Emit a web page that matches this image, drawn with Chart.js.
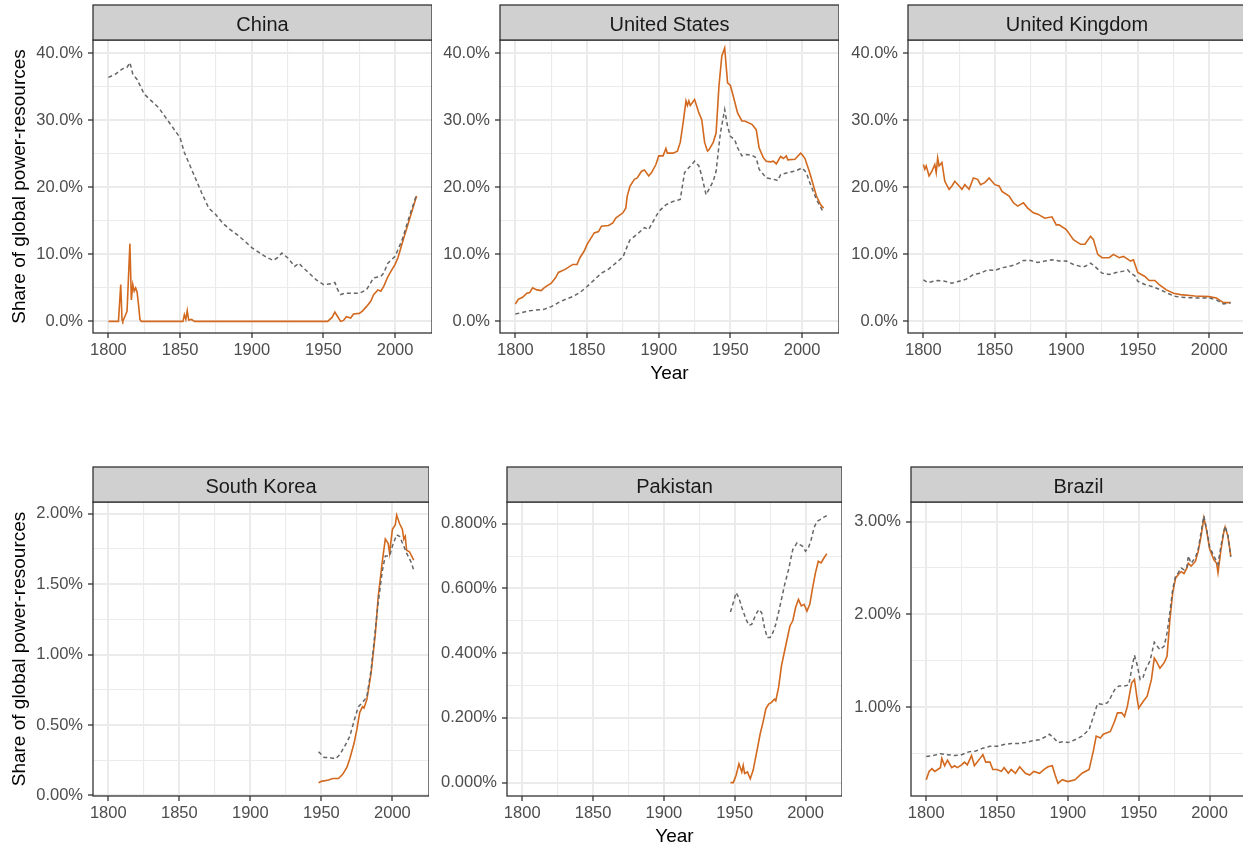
<!DOCTYPE html>
<html>
<head>
<meta charset="utf-8">
<title>Share of global power-resources</title>
<script src="https://cdn.jsdelivr.net/npm/chart.js@4.4.1/dist/chart.umd.min.js"></script>
<style>
  html, body { margin: 0; padding: 0; background: #fff; overflow: hidden; }
  body { width: 1243px; height: 846px; position: relative; }
  canvas { position: absolute; }
</style>
</head>
<body>
<script>
// ---- data: [year, share in %] ----
const chinaNet = [[1800,0],[1807,0],[1808.6,5.5],[1809.5,0.2],[1810,0],[1812,1.0],[1813,1.5],[1815,11.6],[1816,3.2],[1817,5.5],[1818,4.5],[1819,5.0],[1820,4.4],[1821,2.5],[1822,0.3],[1823,0],[1852,0],[1853,1.0],[1854,0.3],[1855,1.6],[1856,0.2],[1858,0.3],[1860,0],[1953,0],[1956,0.6],[1958,1.4],[1960,0.7],[1962,0],[1964,0.15],[1966,0.7],[1969,0.5],[1971,1.1],[1975,1.2],[1977,1.5],[1980,2.2],[1983,3.0],[1985,4.0],[1988,4.7],[1990,4.5],[1992,5.2],[1995,6.7],[1998,7.8],[2000,8.5],[2002,9.5],[2005,11.7],[2010,15.2],[2015,18.7]];
const chinaGross = [[1800,36.4],[1805,36.9],[1810,37.7],[1813,37.9],[1815,38.6],[1817,36.9],[1820,36.1],[1825,33.9],[1830,32.9],[1835,31.9],[1840,30.4],[1845,28.9],[1850,27.4],[1853,25.2],[1855,24.2],[1860,21.7],[1865,19.2],[1870,16.9],[1875,15.9],[1880,14.6],[1885,13.7],[1890,12.9],[1895,12.0],[1900,11.0],[1905,10.3],[1910,9.6],[1915,9.1],[1918,9.5],[1921,10.2],[1925,9.5],[1930,8.2],[1933,8.7],[1935,8.2],[1940,7.2],[1945,6.2],[1950,5.5],[1955,5.6],[1958,5.8],[1960,4.7],[1962,4.0],[1965,4.2],[1970,4.2],[1975,4.2],[1980,4.7],[1985,6.5],[1990,6.7],[1992,7.2],[1995,8.7],[2000,9.7],[2005,12.2],[2010,15.7],[2015,18.9]];

const usNet = [[1800,2.6],[1802,3.3],[1805,3.6],[1808,4.2],[1810,4.3],[1812,5.0],[1815,4.7],[1818,4.6],[1820,5.0],[1822,5.3],[1825,5.7],[1828,6.5],[1830,7.3],[1835,7.8],[1840,8.5],[1843,8.5],[1845,9.5],[1848,10.5],[1850,11.5],[1855,13.2],[1858,13.4],[1860,14.2],[1865,14.3],[1868,14.7],[1870,15.4],[1875,16.2],[1877,16.9],[1878,18.7],[1880,20.2],[1883,21.2],[1885,21.4],[1888,22.4],[1890,22.6],[1893,21.7],[1895,22.2],[1898,23.4],[1900,24.7],[1903,24.7],[1905,25.8],[1906,25.1],[1910,25.1],[1913,25.4],[1915,26.7],[1917,29.6],[1919,32.9],[1920,32.2],[1921,32.9],[1922,32.2],[1925,33.1],[1928,31.1],[1930,30.1],[1932,26.7],[1934,25.4],[1935,25.6],[1938,26.7],[1940,28.1],[1942,35.1],[1944,39.6],[1946,40.8],[1948,35.6],[1950,35.2],[1952,33.6],[1955,31.1],[1958,29.9],[1960,29.9],[1965,29.4],[1968,28.6],[1970,25.9],[1973,24.4],[1975,23.9],[1978,23.8],[1980,23.9],[1982,23.5],[1985,24.6],[1987,24.3],[1989,24.7],[1990,24.1],[1995,24.2],[1999,25.1],[2000,24.9],[2002,24.3],[2005,22.4],[2008,20.2],[2010,18.7],[2013,17.4],[2015,16.9]];
const usGross = [[1800,1.1],[1810,1.6],[1820,1.8],[1825,2.2],[1830,2.8],[1835,3.3],[1840,3.7],[1845,4.3],[1850,5.2],[1855,6.2],[1860,7.2],[1865,7.8],[1870,8.7],[1875,9.6],[1878,11.2],[1880,12.2],[1885,13.0],[1890,14.0],[1893,13.7],[1895,14.5],[1900,16.4],[1905,17.4],[1910,17.9],[1915,18.2],[1918,22.2],[1920,22.7],[1925,23.9],[1928,23.2],[1930,21.7],[1933,18.9],[1935,19.7],[1938,20.9],[1940,22.4],[1943,28.1],[1946,31.6],[1948,29.1],[1950,27.6],[1953,27.1],[1955,25.9],[1958,24.7],[1960,24.9],[1965,24.8],[1968,24.4],[1970,22.7],[1975,21.4],[1980,21.2],[1983,21.0],[1985,21.9],[1990,22.2],[1995,22.4],[2000,22.9],[2003,22.2],[2005,20.9],[2010,18.2],[2015,16.2]];

const ukNet = [[1800,23.4],[1801,22.7],[1802,23.2],[1804,21.7],[1806,22.4],[1808,23.4],[1809,22.2],[1810,24.4],[1811,23.2],[1813,23.7],[1815,20.9],[1818,19.7],[1820,20.2],[1822,20.9],[1825,20.2],[1827,19.7],[1829,20.4],[1832,19.7],[1835,21.4],[1838,21.2],[1840,20.4],[1843,20.7],[1846,21.4],[1850,20.4],[1853,20.2],[1855,19.4],[1860,18.7],[1863,17.7],[1866,17.2],[1870,17.7],[1873,16.9],[1877,16.2],[1880,16.0],[1885,15.4],[1890,15.6],[1893,14.4],[1895,14.4],[1900,13.7],[1905,12.2],[1910,11.5],[1913,11.5],[1917,12.7],[1919,12.2],[1922,10.0],[1925,9.5],[1930,9.5],[1933,10.0],[1937,9.5],[1940,9.7],[1945,9.0],[1947,9.2],[1950,7.3],[1955,6.7],[1958,6.1],[1962,6.1],[1965,5.5],[1970,4.7],[1975,4.2],[1980,4.0],[1990,3.8],[2000,3.7],[2005,3.5],[2010,2.8],[2015,2.8]];
const ukGross = [[1800,6.2],[1803,5.8],[1810,6.1],[1815,6.0],[1820,5.7],[1825,6.0],[1830,6.3],[1835,7.0],[1840,7.2],[1845,7.7],[1850,7.6],[1855,8.0],[1860,8.2],[1865,8.5],[1870,9.1],[1875,9.1],[1880,8.8],[1885,9.0],[1890,9.2],[1895,9.0],[1900,9.0],[1905,8.5],[1910,8.2],[1913,8.2],[1917,8.7],[1920,8.2],[1925,7.2],[1930,7.0],[1935,7.3],[1940,7.5],[1943,7.7],[1945,7.2],[1948,6.8],[1950,6.0],[1955,5.5],[1960,5.2],[1965,4.8],[1970,4.3],[1975,3.8],[1980,3.6],[1990,3.5],[2000,3.5],[2005,3.2],[2010,2.6],[2015,2.8]];

const koreaNet = [[1948,0.09],[1950,0.10],[1955,0.11],[1958,0.12],[1962,0.12],[1965,0.15],[1968,0.20],[1970,0.26],[1973,0.37],[1975,0.47],[1977,0.59],[1979,0.63],[1980,0.62],[1982,0.68],[1985,0.87],[1988,1.15],[1990,1.41],[1993,1.67],[1995,1.82],[1997,1.79],[1998,1.72],[2000,1.89],[2002,1.92],[2003,1.99],[2005,1.93],[2007,1.89],[2008,1.82],[2009,1.84],[2010,1.74],[2012,1.73],[2015,1.67]];
const koreaGross = [[1948,0.31],[1952,0.27],[1955,0.27],[1960,0.26],[1963,0.29],[1967,0.36],[1970,0.42],[1973,0.53],[1976,0.63],[1979,0.66],[1982,0.70],[1985,0.89],[1988,1.18],[1990,1.37],[1993,1.60],[1995,1.70],[1998,1.70],[2000,1.77],[2003,1.85],[2005,1.84],[2008,1.77],[2010,1.72],[2013,1.66],[2015,1.60]];

const pakistanNet = [[1947,0],[1949,0],[1951,0.023],[1953,0.058],[1955,0.033],[1956,0.053],[1957,0.028],[1959,0.033],[1961,0.012],[1963,0.038],[1966,0.105],[1968,0.151],[1970,0.187],[1972,0.228],[1974,0.243],[1976,0.248],[1978,0.258],[1979,0.253],[1981,0.294],[1983,0.361],[1985,0.402],[1987,0.443],[1989,0.484],[1991,0.500],[1993,0.541],[1995,0.566],[1997,0.546],[1999,0.551],[2001,0.530],[2003,0.551],[2005,0.602],[2007,0.648],[2009,0.684],[2011,0.679],[2013,0.694],[2015,0.707]];
const pakistanGross = [[1947,0.527],[1949,0.556],[1951,0.587],[1953,0.571],[1955,0.541],[1958,0.505],[1960,0.486],[1962,0.489],[1965,0.520],[1967,0.535],[1969,0.525],[1971,0.479],[1973,0.448],[1975,0.448],[1977,0.464],[1979,0.489],[1982,0.546],[1985,0.607],[1988,0.658],[1991,0.720],[1994,0.741],[1996,0.735],[1998,0.730],[2000,0.715],[2002,0.725],[2004,0.751],[2006,0.787],[2008,0.807],[2010,0.812],[2013,0.820],[2015,0.825]];

const brazilNet = [[1800,0.22],[1802,0.31],[1804,0.34],[1806,0.31],[1810,0.35],[1811,0.45],[1813,0.37],[1815,0.43],[1818,0.35],[1820,0.37],[1822,0.35],[1825,0.38],[1827,0.41],[1829,0.38],[1832,0.48],[1834,0.37],[1836,0.41],[1838,0.45],[1840,0.49],[1842,0.41],[1845,0.41],[1847,0.33],[1850,0.33],[1853,0.31],[1855,0.35],[1858,0.29],[1860,0.33],[1863,0.29],[1866,0.36],[1870,0.29],[1873,0.27],[1876,0.31],[1880,0.29],[1883,0.33],[1886,0.36],[1889,0.37],[1891,0.27],[1893,0.18],[1896,0.22],[1900,0.20],[1905,0.22],[1910,0.29],[1915,0.33],[1918,0.53],[1920,0.69],[1923,0.67],[1925,0.71],[1930,0.74],[1933,0.85],[1935,0.94],[1938,0.94],[1940,0.90],[1942,1.01],[1945,1.26],[1947,1.30],[1949,1.08],[1950,0.99],[1953,1.06],[1956,1.12],[1959,1.30],[1961,1.53],[1963,1.48],[1965,1.42],[1968,1.48],[1970,1.55],[1972,1.94],[1974,2.23],[1976,2.39],[1978,2.43],[1980,2.46],[1982,2.44],[1984,2.50],[1985,2.55],[1987,2.52],[1990,2.57],[1992,2.68],[1994,2.84],[1996,3.04],[1998,2.90],[2000,2.71],[2003,2.59],[2005,2.55],[2006,2.45],[2008,2.69],[2010,2.88],[2011,2.94],[2013,2.84],[2015,2.63]];
const brazilGross = [[1800,0.47],[1805,0.48],[1810,0.50],[1815,0.49],[1820,0.48],[1825,0.49],[1830,0.52],[1835,0.53],[1840,0.56],[1845,0.58],[1850,0.58],[1855,0.60],[1860,0.61],[1865,0.61],[1870,0.62],[1875,0.64],[1880,0.65],[1885,0.69],[1887,0.71],[1890,0.67],[1893,0.62],[1897,0.63],[1900,0.62],[1905,0.65],[1910,0.69],[1915,0.76],[1918,0.90],[1921,1.04],[1925,1.03],[1928,1.05],[1930,1.10],[1933,1.19],[1936,1.23],[1940,1.23],[1943,1.24],[1945,1.41],[1947,1.56],[1949,1.45],[1951,1.30],[1953,1.32],[1955,1.41],[1958,1.50],[1961,1.70],[1963,1.66],[1965,1.62],[1968,1.66],[1970,1.80],[1972,2.02],[1974,2.27],[1976,2.41],[1978,2.45],[1980,2.50],[1982,2.48],[1984,2.50],[1985,2.63],[1987,2.55],[1990,2.61],[1992,2.70],[1994,2.88],[1996,3.06],[1998,2.91],[2000,2.73],[2003,2.63],[2005,2.57],[2006,2.54],[2008,2.73],[2010,2.89],[2011,2.95],[2013,2.85],[2015,2.62]];

// tick values
const xMajor = [1800, 1850, 1900, 1950, 2000];
const xMinor = [1825, 1875, 1925, 1975];
const topMajor = [0, 10, 20, 30, 40];
const topMinor = [5, 15, 25, 35];
const koreaMajor = [0, 0.5, 1, 1.5, 2];
const koreaMinor = [0.25, 0.75, 1.25, 1.75];
const pakistanMajor = [0, 0.2, 0.4, 0.6, 0.8];
const pakistanMinor = [0.1, 0.3, 0.5, 0.7];
const brazilMajor = [1, 2, 3];
const brazilMinor = [0.5, 1.5, 2.5];

Chart.defaults.font.family = "'Liberation Sans', Arial, sans-serif";
Chart.defaults.animation = false;

const ORANGE = '#D2691E';
const GREY = '#666666';
const GRID = '#EBEBEB';
const AXIS = '#333333';

// panel border + facet strip
const facetStrip = {
  id: 'facetStrip',
  afterDraw(chart, args, opts) {
    const { ctx, chartArea: a } = chart;
    const w = a.right - a.left;
    ctx.save();
    ctx.strokeStyle = AXIS;
    ctx.lineWidth = 1.3;
    ctx.strokeRect(a.left, a.top, w, a.bottom - a.top);
    ctx.fillStyle = '#D0D0D0';
    ctx.fillRect(a.left, a.top - opts.height, w, opts.height);
    ctx.strokeRect(a.left, a.top - opts.height, w, opts.height);
    ctx.fillStyle = '#1A1A1A';
    ctx.font = "20px 'Liberation Sans', Arial, sans-serif";
    ctx.textAlign = 'center';
    ctx.textBaseline = 'alphabetic';
    ctx.fillText(opts.label, a.left + w / 2, a.top - 9.5);
    ctx.restore();
  }
};

function panel(p) {
  const L = p.yTitle ? p.left : 80;
  const T = 40, B = 55;
  const cv = document.createElement('canvas');
  cv.width = L + (p.right - p.left);
  cv.height = T + (p.bottom - p.top) + B;
  cv.style.left = (p.left - L) + 'px';
  cv.style.top = (p.top - T) + 'px';
  document.body.appendChild(cv);

  const yTicks = p.yMajor.concat(p.yMinor).sort((a, b) => a - b);
  const xTicks = xMajor.concat(xMinor).sort((a, b) => a - b);
  const toXY = arr => arr.map(d => ({ x: d[0], y: d[1] }));

  new Chart(cv, {
    type: 'line',
    data: {
      datasets: [
        { label: 'gross', data: toXY(p.gross), borderColor: GREY, borderWidth: 1.5, borderDash: [4, 3], pointRadius: 0, tension: 0 },
        { label: 'net', data: toXY(p.net), borderColor: ORANGE, borderWidth: 1.6, pointRadius: 0, tension: 0 }
      ]
    },
    options: {
      responsive: false,
      devicePixelRatio: 1,
      layout: { padding: { top: T, left: 0, right: 0, bottom: 0 } },
      plugins: {
        legend: { display: false },
        tooltip: { enabled: false },
        facetStrip: { label: p.label, height: 35 }
      },
      scales: {
        x: {
          type: 'linear',
          min: 1789.25,
          max: 2025.75,
          afterBuildTicks: s => { s.ticks = xTicks.map(v => ({ value: v })); },
          afterFit: s => { s.height = B; },
          border: { display: false },
          grid: {
            color: GRID,
            lineWidth: c => xMajor.includes(c.tick.value) ? 2 : 1.1,
            tickColor: c => xMajor.includes(c.tick.value) ? AXIS : 'rgba(0,0,0,0)',
            tickLength: 5,
            tickWidth: 1.3
          },
          ticks: {
            autoSkip: false,
            maxRotation: 0,
            padding: 3,
            color: '#4D4D4D',
            font: { size: 16.5 },
            callback: v => xMajor.includes(v) ? String(v) : ''
          },
          title: {
            display: !!p.xTitle,
            text: 'Year',
            color: '#000000',
            font: { size: 19 },
            padding: { top: 0, bottom: 3 }
          }
        },
        y: {
          type: 'linear',
          min: p.yMin,
          max: p.yMax,
          afterBuildTicks: s => { s.ticks = yTicks.map(v => ({ value: v })); },
          afterFit: s => { s.width = L; },
          border: { display: false },
          grid: {
            color: GRID,
            lineWidth: c => p.yMajor.includes(c.tick.value) ? 2 : 1.1,
            tickColor: c => p.yMajor.includes(c.tick.value) ? AXIS : 'rgba(0,0,0,0)',
            tickLength: 5,
            tickWidth: 1.3
          },
          ticks: {
            autoSkip: false,
            padding: 5,
            color: '#4D4D4D',
            font: { size: 16.5 },
            callback: v => p.yMajor.includes(v) ? v.toFixed(p.decimals) + '%' : ''
          },
          title: {
            display: !!p.yTitle,
            text: 'Share of global power-resources',
            color: '#000000',
            font: { size: 19 },
            padding: { top: 8, bottom: 0 }
          }
        }
      }
    },
    plugins: [facetStrip]
  });
}

panel({ label: 'China', net: chinaNet, gross: chinaGross, left: 93, right: 432, top: 40, bottom: 333,
        yMin: -1.73, yMax: 41.98, yMajor: topMajor, yMinor: topMinor, decimals: 1, yTitle: true });
panel({ label: 'United States', net: usNet, gross: usGross, left: 500, right: 839, top: 40, bottom: 333,
        yMin: -1.73, yMax: 41.98, yMajor: topMajor, yMinor: topMinor, decimals: 1, xTitle: true });
panel({ label: 'United Kingdom', net: ukNet, gross: ukGross, left: 908, right: 1246, top: 40, bottom: 333,
        yMin: -1.73, yMax: 41.98, yMajor: topMajor, yMinor: topMinor, decimals: 1 });
panel({ label: 'South Korea', net: koreaNet, gross: koreaGross, left: 93, right: 429, top: 502, bottom: 796,
        yMin: -0.004, yMax: 2.083, yMajor: koreaMajor, yMinor: koreaMinor, decimals: 2, yTitle: true });
panel({ label: 'Pakistan', net: pakistanNet, gross: pakistanGross, left: 507, right: 842, top: 502, bottom: 796,
        yMin: -0.0413, yMax: 0.867, yMajor: pakistanMajor, yMinor: pakistanMinor, decimals: 3, xTitle: true });
panel({ label: 'Brazil', net: brazilNet, gross: brazilGross, left: 911, right: 1246, top: 502, bottom: 796,
        yMin: 0.045, yMax: 3.21, yMajor: brazilMajor, yMinor: brazilMinor, decimals: 2 });
</script>
</body>
</html>
